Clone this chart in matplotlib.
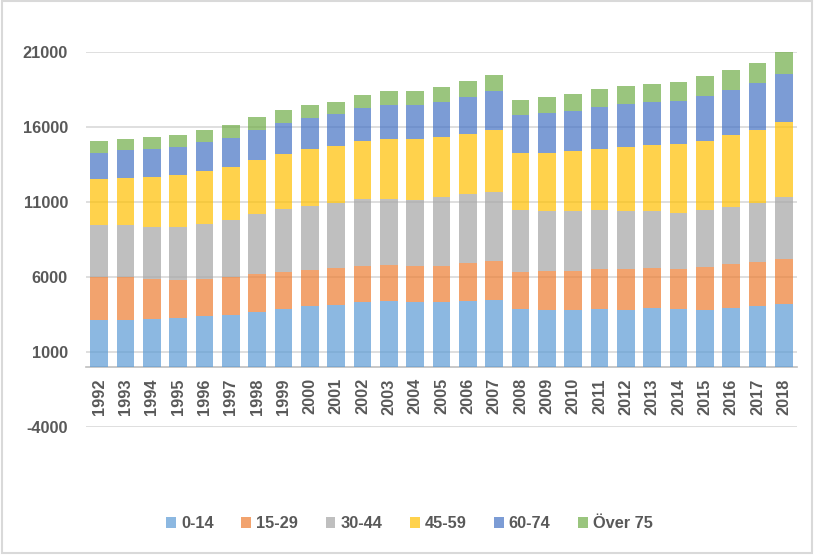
import numpy as np
import matplotlib.pyplot as plt
from matplotlib.patches import Rectangle

plt.rcParams['font.family'] = ['Liberation Sans', 'DejaVu Sans']
plt.rcParams['font.weight'] = 'bold'
plt.rcParams['axes.unicode_minus'] = False

years = [str(y) for y in range(1992, 2019)]
groups = ['0-14', '15-29', '30-44', '45-59', '60-74', 'Över 75']
colors = ['#5B9BD5', '#ED7D31', '#A5A5A5', '#FFC000', '#4472C4', '#70AD47']

age_0_14 = [3110, 3160, 3200, 3270, 3400, 3470, 3670, 3840, 4070, 4130, 4330, 4400, 4330, 4330,
            4400, 4470, 3870, 3820, 3820, 3840, 3820, 3930, 3840, 3820, 3930, 4070, 4200]
age_15_29 = [2890, 2820, 2670, 2530, 2490, 2560, 2530, 2490, 2400, 2470, 2400, 2400, 2380, 2400,
             2530, 2600, 2470, 2580, 2580, 2690, 2710, 2670, 2690, 2850, 2930, 2950, 3000]
age_30_44 = [3440, 3470, 3490, 3560, 3620, 3760, 4000, 4180, 4270, 4310, 4450, 4420, 4420, 4600,
             4580, 4620, 4110, 3980, 3980, 3910, 3850, 3780, 3710, 3780, 3800, 3910, 4110]
age_45_59 = [3070, 3160, 3310, 3440, 3560, 3560, 3600, 3670, 3800, 3820, 3890, 3980, 4070, 4000,
             4020, 4110, 3820, 3890, 4020, 4090, 4290, 4400, 4620, 4620, 4800, 4870, 5020]
age_60_74 = [1730, 1840, 1870, 1840, 1930, 1930, 2000, 2090, 2070, 2130, 2200, 2240, 2240, 2330,
             2470, 2580, 2530, 2670, 2670, 2800, 2870, 2890, 2870, 3000, 3040, 3110, 3200]
age_75 = [800, 730, 780, 800, 800, 840, 840, 840, 840, 840, 840, 930, 930, 1000,
          1040, 1070, 980, 1070, 1130, 1180, 1200, 1180, 1240, 1310, 1330, 1330, 1440]

series = [age_0_14, age_15_29, age_30_44, age_45_59, age_60_74, age_75]

fig = plt.figure(figsize=(8.15, 5.55), dpi=100)
fig.patches.append(Rectangle((0.002, 0.004), 0.994, 0.994, transform=fig.transFigure,
                             fill=False, edgecolor='#D9D9D9', linewidth=1.5))
ax = fig.add_axes([0.1055, 0.2306, 0.8724, 0.6757])

x = np.arange(len(years))
bottom = np.zeros(len(years))
for name, vals, c in zip(groups, series, colors):
    ax.bar(x, vals, 0.66, bottom=bottom, color=c, alpha=0.7, label=name, zorder=2)
    bottom += np.array(vals)

ax.set_ylim(-4000, 21000)
ax.set_xlim(-0.5, len(years) - 0.5)
ax.set_yticks(np.arange(-4000, 21001, 5000))
ax.yaxis.grid(True, color='#D9D9D9', linewidth=1.2, zorder=0)
ax.set_axisbelow(True)

for s in ['top', 'right', 'left']:
    ax.spines[s].set_visible(False)
ax.spines['bottom'].set_position(('data', 0))
ax.spines['bottom'].set_color('#BFBFBF')
ax.spines['bottom'].set_linewidth(1.2)
ax.spines['bottom'].set_zorder(1)

ax.set_xticks(x)
ax.set_xticklabels(years, rotation=90)
ax.tick_params(axis='x', length=0, pad=8, labelsize=11.8, labelcolor='#595959')
ax.tick_params(axis='y', length=0, pad=13, labelsize=11.8, labelcolor='#595959')

ax.legend(loc='center', bbox_to_anchor=(0.455, -0.258), ncol=6, frameon=False,
          fontsize=11.8, labelcolor='#595959', handlelength=0.6, handleheight=0.6,
          handletextpad=0.3, columnspacing=1.68)

fig.savefig('out.png', dpi=100)
